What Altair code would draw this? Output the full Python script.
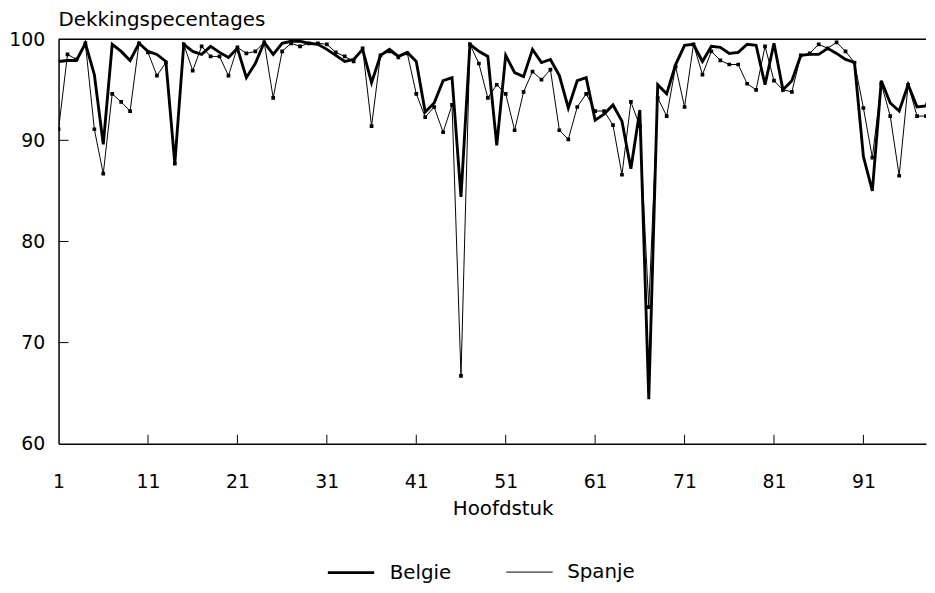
import altair as alt
import pandas as pd

hoofdstuk = list(range(1, 100))

belgie = [97.8, 97.9, 97.9, 99.6, 96.5, 89.6, 99.5, 98.8, 97.9, 99.6,
          98.8, 98.5, 97.8, 87.7, 99.5, 98.8, 98.5, 99.3, 98.7, 98.2,
          99.1, 96.2, 97.6, 99.7, 98.5, 99.6, 99.8, 99.8, 99.6, 99.5,
          99.0, 98.4, 97.8, 98.0, 99.0, 95.7, 98.4, 99.0, 98.3, 98.7,
          97.8, 92.8, 93.7, 95.9, 96.2, 84.4, 99.5, 98.8, 98.3, 89.5,
          98.4, 96.7, 96.3, 99.0, 97.7, 98.0, 96.4, 93.2, 95.9, 96.2,
          92.0, 92.6, 93.5, 91.9, 87.2, 93.0, 64.4, 95.5, 94.6, 97.5,
          99.4, 99.5, 97.8, 99.3, 99.2, 98.6, 98.7, 99.5, 99.4, 95.5,
          99.6, 95.0, 95.9, 98.4, 98.5, 98.5, 99.1, 98.6, 98.0, 97.7,
          88.4, 85.0, 95.9, 93.7, 92.9, 95.5, 93.3, 93.4, 96.0]

spanje = [91.1, 98.5, 98.0, 99.6, 91.1, 86.7, 94.6, 93.8, 92.9, 99.6,
          98.7, 96.4, 97.7, 87.7, 99.5, 96.9, 99.3, 98.3, 98.3, 96.4,
          99.2, 98.6, 98.8, 99.7, 94.2, 98.8, 99.6, 99.3, 99.6, 99.6,
          99.5, 98.7, 98.3, 97.8, 99.1, 91.4, 98.4, 98.8, 98.2, 98.6,
          94.6, 92.3, 93.3, 90.8, 93.5, 66.7, 99.5, 97.6, 94.2, 95.5,
          94.6, 91.0, 94.8, 96.8, 96.0, 97.0, 91.0, 90.1, 93.3, 94.6,
          92.9, 92.9, 91.5, 86.6, 93.8, 91.4, 73.5, 94.2, 92.4, 97.3,
          93.3, 99.5, 96.5, 98.8, 97.9, 97.5, 97.5, 95.6, 95.0, 99.3,
          95.9, 95.0, 94.8, 98.4, 98.6, 99.5, 99.1, 99.7, 98.8, 97.7,
          93.2, 88.3, 95.6, 92.4, 86.5, 95.5, 92.4, 92.4, 89.0]

landen = ["Belgie", "Spanje"]
x_ticks = [1, 11, 21, 31, 41, 51, 61, 71, 81, 91]
y_ticks = [60, 70, 80, 90, 100]

df = pd.DataFrame({
    "Hoofdstuk": hoofdstuk * 2,
    "Land": [landen[0]] * len(belgie) + [landen[1]] * len(spanje),
    "Pct": belgie + spanje,
})

W, H = 875, 408
FONT = "DejaVu Sans"
FS_LAB = 19
FS_TXT = 20

xscale = alt.Scale(domain=[1, 98], nice=False, zero=False)
yscale = alt.Scale(domain=[60, 100], nice=False, zero=False)

x_enc = alt.X("Hoofdstuk:Q", scale=xscale,
              axis=alt.Axis(values=x_ticks, title="Hoofdstuk", ticks=False, tickSize=0,
                            grid=False, labelPadding=29, titlePadding=7,
                            titleX=448, labelFlush=False, labelOverlap=False))
y_enc = alt.Y("Pct:Q", scale=yscale,
              axis=alt.Axis(values=y_ticks, title=None, ticks=False, tickSize=0,
                            grid=False, labelPadding=14))

lines = alt.Chart(df).mark_line(color="black", clip=True, strokeJoin="miter").encode(
    x=x_enc,
    y=y_enc,
    detail="Land:N",
    strokeWidth=alt.StrokeWidth(
        "Land:N",
        scale=alt.Scale(domain=landen, range=[2.9, 1.0]),
        legend=alt.Legend(title=None, orient="none", legendX=284, legendY=527,
                          direction="horizontal", symbolType="M-2.5,0H2.5",
                          symbolStrokeColor="black", symbolSize=350,
                          labelFontSize=FS_TXT, labelFont=FONT, labelColor="black",
                          labelOffset=28, columnPadding=52, padding=0),
    ),
)

points = alt.Chart(df).transform_filter(alt.datum.Land == "Spanje").mark_square(
    color="black", size=14, opacity=1, clip=True
).encode(x=x_enc, y=y_enc)

xtick_df = pd.DataFrame({"Hoofdstuk": x_ticks[1:]})
xticks_layer = alt.Chart(xtick_df).mark_rule(color="black", strokeWidth=1).encode(
    x=x_enc, y=alt.value(H), y2=alt.value(H - 9)
)

ytick_df = pd.DataFrame({"Pct": [70, 80, 90]})
yticks_layer = alt.Chart(ytick_df).mark_rule(color="black", strokeWidth=1).encode(
    y=y_enc, x=alt.value(0), x2=alt.value(10)
)

top_df = pd.DataFrame({"Pct": [100]})
top_layer = alt.Chart(top_df).mark_rule(color="black", strokeWidth=1.5).encode(y=y_enc)

chart = alt.layer(top_layer, xticks_layer, yticks_layer, lines, points).properties(
    width=W, height=H,
    padding=0,
    title=alt.Title("Dekkingspecentages", anchor="start", frame="group",
                    fontSize=FS_TXT, fontWeight="normal", font=FONT, color="black",
                    offset=0),
).configure_view(stroke=None).configure_axis(
    domainColor="black", domainWidth=1.5,
    labelFont=FONT, labelFontSize=FS_LAB, labelColor="black",
    titleFont=FONT, titleFontSize=FS_TXT, titleFontWeight="normal", titleColor="black",
)

chart.save("out.html", embed_options={"renderer": "svg", "actions": False})
